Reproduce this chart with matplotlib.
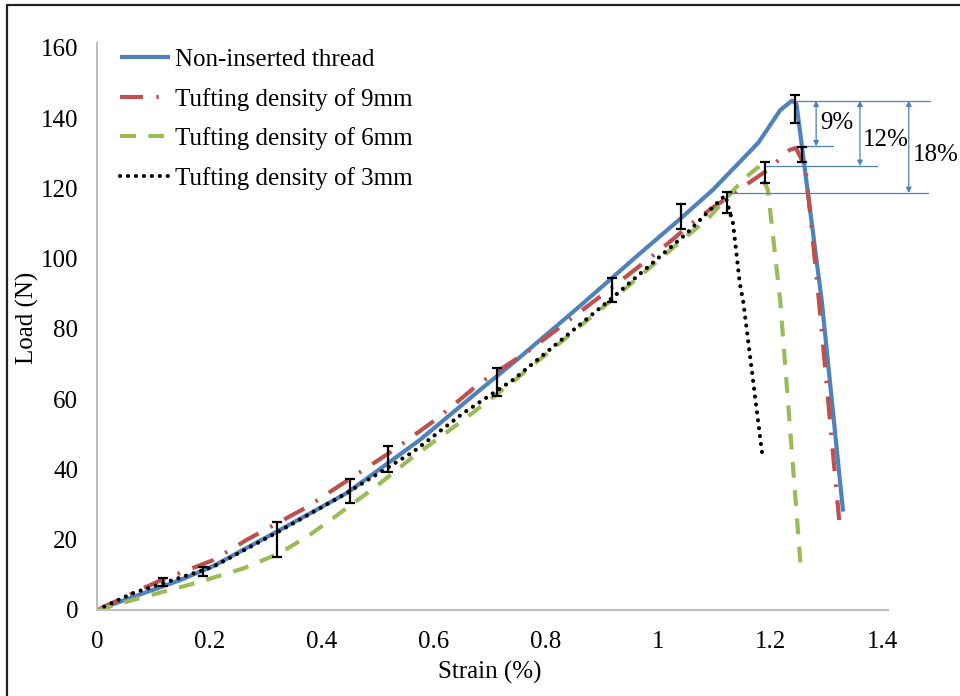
"""
Load-strain curves for tufted specimens (recreation)
"""

import matplotlib
matplotlib.use("Agg")
import matplotlib.pyplot as plt
from matplotlib.patches import Rectangle

plt.rcParams['font.family'] = ['Liberation Serif', 'DejaVu Serif']

# ---- data ----
x_plain = [0, 0.064, 0.148, 0.207, 0.326, 0.445, 0.575, 0.682, 0.75, 0.86, 0.96, 1.04, 1.097,
           1.178, 1.217, 1.238, 1.246, 1.291, 1.329]
y_plain = [0, 3.7, 8.5, 12.5, 22.8, 33.3, 48.4, 62.6, 71.5, 86.5, 100.5, 111.5, 119.6,
           133, 142.3, 145, 144, 88, 28]

x_9mm = [0, 0.107, 0.207, 0.267, 0.374, 0.528, 0.606, 0.682, 0.771, 0.919, 1.003, 1.074,
         1.195, 1.234, 1.245, 1.262, 1.286, 1.322]
y_9mm = [0, 8, 14.2, 20, 29.3, 45.5, 54.5, 64.6, 74, 92, 102.5, 112,
         125.3, 131, 131.5, 126, 88, 25.6]

x_6mm = [0, 0.09, 0.183, 0.26, 0.326, 0.38, 0.433, 0.5, 0.563, 0.652, 0.741, 0.919, 1.051,
         1.086, 1.151, 1.177, 1.195, 1.217, 1.254]
y_6mm = [0, 4, 8, 11.8, 16.2, 21.5, 27.6, 35.5, 43.6, 54, 65, 88.5, 106.5,
         111, 122.5, 126, 119.6, 88, 11.4]

x_3mm = [0, 0.064, 0.207, 0.32, 0.445, 0.563, 0.652, 0.741, 0.919, 1.051, 1.097, 1.119,
         1.133, 1.145, 1.151, 1.186]
y_3mm = [0, 4.8, 12.3, 22, 33.3, 45, 56, 65.5, 89, 107.3, 114.7, 118,
         110, 93, 88, 43]

err_x = [0.118, 0.189, 0.32, 0.45, 0.518, 0.712, 0.917, 1.04, 1.122, 1.19, 1.256, 1.243]
err_y = [8, 11, 20, 34, 43, 65, 91, 112, 116, 124.6, 129.7, 142.6]
err_e = [1.2, 1.2, 5, 3.4, 3.8, 4, 3.4, 3.6, 3, 3, 2.2, 4]

labels = ['Non-inserted thread', 'Tufting density of 9mm',
          'Tufting density of 6mm', 'Tufting density of 3mm']

x_ticks = [0, 0.2, 0.4, 0.6, 0.8, 1, 1.2, 1.4]
x_tick_labels = ['0', '0.2', '0.4', '0.6', '0.8', '1', '1.2', '1.4']
y_ticks = [0, 20, 40, 60, 80, 100, 120, 140, 160]

# strength drop annotations: level of the lower peak, arrow x, label x, label y, text
peak_top = 145
drop_levels = [132, 126.4, 118.7]
drop_line_x = [(1.25, 1.311), (1.19, 1.389), (1.128, 1.48)]
drop_arrow_x = [1.281, 1.359, 1.446]
drop_text_x = [1.288, 1.364, 1.453]
drop_text_y = [138.6, 133.8, 129.5]
drop_text = ['9%', '12%', '18%']

BLUE = '#4F81BD'
RED = '#C0504D'
GREEN = '#9BBB59'
FS = 18

fig = plt.figure(figsize=(9.6, 6.96), dpi=100)
ax = fig.add_axes([97 / 960, 1 - 610 / 696, 791 / 960, 567 / 696])

ax.plot(x_plain, y_plain, color=BLUE, lw=3, solid_capstyle='butt', label=labels[0])
ax.plot(x_9mm, y_9mm, color=RED, lw=3, linestyle=(0, (5.5, 3.2, 0.6, 3.2)), label=labels[1])
ax.plot(x_6mm, y_6mm, color=GREEN, lw=3, linestyle=(0, (3.8, 3)), label=labels[2])
ax.plot(x_3mm, y_3mm, color='black', lw=3, linestyle=(0, (0.01, 1.9)),
        dash_capstyle='round', label=labels[3])

ax.errorbar(err_x, err_y, yerr=err_e, fmt='none', ecolor='black',
            elinewidth=1.6, capsize=3.6, capthick=1.6, zorder=5)

# annotation lines drawn outside the plot area, as in the original
ax.plot([1.243, 1.484], [peak_top, peak_top], color=BLUE, lw=0.9, clip_on=False)
for lvl, (x0, x1), xa, xt, yt, t in zip(drop_levels, drop_line_x, drop_arrow_x,
                                         drop_text_x, drop_text_y, drop_text):
    ax.plot([x0, x1], [lvl, lvl], color=BLUE, lw=0.9, clip_on=False)
    ax.annotate('', xy=(xa, lvl), xytext=(xa, peak_top), annotation_clip=False,
                arrowprops=dict(arrowstyle='<|-|>', color=BLUE, lw=0.9,
                                mutation_scale=8, shrinkA=0, shrinkB=0))
    ax.text(xt, yt, t, fontsize=FS, ha='left', va='center', clip_on=False)

ax.set_xlim(0, 1.409)
ax.set_ylim(0, 161.4)
ax.set_xticks(x_ticks)
ax.set_xticklabels(x_tick_labels)
ax.set_yticks(y_ticks)
ax.tick_params(axis='x', length=0, pad=15, labelsize=FS)
ax.tick_params(axis='y', length=0, pad=13.5, labelsize=FS)
for s in ['top', 'right']:
    ax.spines[s].set_visible(False)
for s in ['left', 'bottom']:
    ax.spines[s].set_color('#BFBFBF')
    ax.spines[s].set_linewidth(1.5)

ax.legend(loc='upper left', bbox_to_anchor=(0.029, 0.99), frameon=False,
          fontsize=FS, handlelength=2.0, handletextpad=0.2, labelspacing=0.66,
          borderpad=0, borderaxespad=0)

fig.text(27 / 960, 1 - 318 / 696, 'Load (N)', rotation=90, ha='center', va='center', fontsize=FS)
fig.text(490 / 960, 1 - 672 / 696, 'Strain (%)', ha='center', va='center', fontsize=FS)

# outer frame (only left and top edges are inside the image)
fig.patches.append(Rectangle((7 / 960, -0.1), 1.2, 1.1 - 5 / 696, transform=fig.transFigure,
                             fill=False, edgecolor='#222222', lw=1.6))

fig.savefig('out.png', dpi=100)
